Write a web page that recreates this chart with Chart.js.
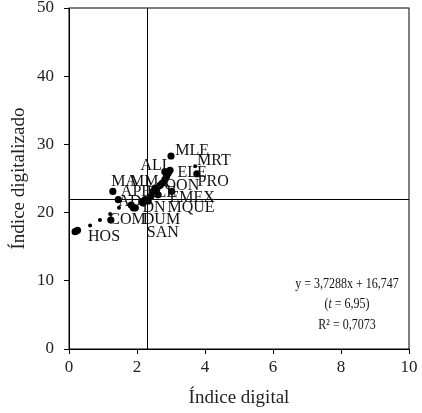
<!DOCTYPE html>
<html lang="es">
<head>
<meta charset="UTF-8">
<title>Índice digital vs Índice digitalizado</title>
<script src="https://cdn.jsdelivr.net/npm/chart.js"></script>
<style>
    html, body { margin: 0; padding: 0; background: #fff; }
    .wrap { width: 422px; height: 413px; position: relative; }
</style>
</head>
<body>
<div class="wrap"><canvas id="chart"></canvas></div>
<script>
// Puntos grandes (índice digital, índice digitalizado)
const bigX = [0.18, 0.25, 1.23, 1.29, 1.45, 1.83, 1.89, 1.95, 2.14, 2.18, 2.24, 2.33, 2.41, 2.48, 2.53, 2.58, 2.62, 2.68, 2.74, 2.82, 2.82, 2.87, 2.92, 2.97, 3.0, 3.02, 3.76];
const bigY = [17.2, 17.4, 18.9, 23.1, 21.9, 21.1, 20.7, 20.7, 21.6, 21.4, 21.9, 21.7, 22.4, 23.1, 23.6, 23.4, 22.6, 24.0, 24.3, 24.8, 26.0, 25.3, 25.8, 26.2, 28.3, 23.1, 25.7];
// Puntos pequeños
const smallX = [0.62, 0.91, 1.21, 1.47, 3.71];
const smallY = [18.1, 18.9, 19.8, 20.7, 26.8];

// Etiquetas de países (posición en unidades de datos)
const labelNames = ['MLE', 'MRT', 'ALL', 'ELE', 'MA', 'MMA', 'PRO', 'QON', 'APE', 'ELE', 'EMEX', 'AD', 'DN', 'MQUE', 'COM', 'DUM', 'HOS', 'SAN'];
const labelX = [3.62, 4.26, 2.56, 3.62, 1.62, 2.38, 4.24, 3.32, 1.97, 2.72, 3.62, 1.79, 2.5, 3.59, 1.72, 2.72, 1.03, 2.76];
const labelY = [29.1, 27.6, 26.9, 25.8, 24.5, 24.5, 24.5, 23.9, 23.1, 22.9, 22.2, 21.6, 20.7, 20.7, 18.9, 18.9, 16.4, 17.0];

const meanX = 2.29;   // línea vertical
const meanY = 22.0;   // línea horizontal
const xTicks = [0, 2, 4, 6, 8, 10];
const yTicks = [0, 10, 20, 30, 40, 50];
const regression = ['y = 3,7288x + 16,747', '(t = 6,95)', 'R² = 0,7073'];

const serif = "'Liberation Serif', 'DejaVu Serif', serif";

const extras = {
    id: 'extras',
    beforeDatasetsDraw(chart) {
        const { ctx, chartArea: a, scales: { x, y } } = chart;
        ctx.save();
        ctx.strokeStyle = '#000';
        ctx.lineWidth = 1;
        ctx.strokeRect(a.left, a.top, a.right - a.left, a.bottom - a.top);
        const px = Math.round(x.getPixelForValue(meanX)) + 0.5;
        const py = Math.round(y.getPixelForValue(meanY)) + 0.5;
        ctx.beginPath();
        ctx.moveTo(px, a.top); ctx.lineTo(px, a.bottom);
        ctx.moveTo(a.left, py); ctx.lineTo(a.right, py);
        ctx.stroke();
        ctx.restore();
    },
    afterDatasetsDraw(chart) {
        const { ctx, chartArea: a, scales: { x, y } } = chart;
        ctx.save();
        ctx.fillStyle = '#111';
        ctx.font = '16px ' + serif;
        ctx.textAlign = 'center';
        ctx.textBaseline = 'middle';
        labelNames.forEach((n, i) => {
            ctx.fillText(n, x.getPixelForValue(labelX[i]), y.getPixelForValue(labelY[i]));
        });
        ctx.restore();

        // recuadro de regresión (letra algo condensada)
        ctx.save();
        ctx.fillStyle = '#111';
        ctx.textBaseline = 'middle';
        const cx = a.right - 62;
        ctx.translate(cx, 0);
        ctx.scale(0.8, 1);
        const f = '15px ' + serif;
        ctx.font = f;
        ctx.textAlign = 'center';
        ctx.fillText(regression[0], 0, a.bottom - 65);
        ctx.fillText(regression[2], 0, a.bottom - 24);
        // (t = 6,95) con t en cursiva
        const parts = ['(', 't', ' = 6,95)'];
        const w0 = ctx.measureText(parts[0]).width;
        const w2 = ctx.measureText(parts[2]).width;
        ctx.font = 'italic ' + f;
        const w1 = ctx.measureText(parts[1]).width;
        const sx = -(w0 + w1 + w2) / 2;
        ctx.textAlign = 'left';
        ctx.font = f;
        ctx.fillText(parts[0], sx, a.bottom - 45);
        ctx.font = 'italic ' + f;
        ctx.fillText(parts[1], sx + w0, a.bottom - 45);
        ctx.font = f;
        ctx.fillText(parts[2], sx + w0 + w1, a.bottom - 45);
        ctx.restore();
    }
};

new Chart(document.getElementById('chart'), {
    type: 'scatter',
    data: {
        datasets: [
            {
                data: bigX.map((v, i) => ({ x: v, y: bigY[i] })),
                backgroundColor: '#000',
                borderColor: '#000',
                pointRadius: 3.6,
                borderWidth: 0
            },
            {
                data: smallX.map((v, i) => ({ x: v, y: smallY[i] })),
                backgroundColor: '#000',
                borderColor: '#000',
                pointRadius: 2,
                borderWidth: 0
            }
        ]
    },
    options: {
        responsive: true,
        maintainAspectRatio: false,
        animation: false,
        layout: { padding: { top: 8, right: 13, left: 0, bottom: 0 } },
        plugins: { legend: { display: false }, tooltip: { enabled: false } },
        scales: {
            x: {
                type: 'linear',
                min: 0, max: 10,
                afterBuildTicks: s => { s.ticks = xTicks.map(v => ({ value: v })); },
                afterFit: s => { s.height = 64; },
                grid: { drawOnChartArea: false, color: '#000', tickLength: 5 },
                border: { color: '#000' },
                ticks: { color: '#222', padding: 3, font: { family: serif, size: 17 } },
                title: { display: true, text: 'Índice digital', color: '#222', font: { family: serif, size: 19 }, padding: { top: 7 } }
            },
            y: {
                type: 'linear',
                min: 0, max: 50,
                afterBuildTicks: s => { s.ticks = yTicks.map(v => ({ value: v })); },
                afterFit: s => { s.width = 69; s.paddingTop = 0; s.paddingBottom = 0; },
                grid: { drawOnChartArea: false, color: '#000', tickLength: 5 },
                border: { color: '#000' },
                ticks: { color: '#222', padding: 10, font: { family: serif, size: 17 } },
                title: { display: true, text: 'Índice digitalizado', color: '#222', font: { family: serif, size: 19 }, padding: { top: 8 } }
            }
        }
    },
    plugins: [extras]
});
</script>
</body>
</html>
